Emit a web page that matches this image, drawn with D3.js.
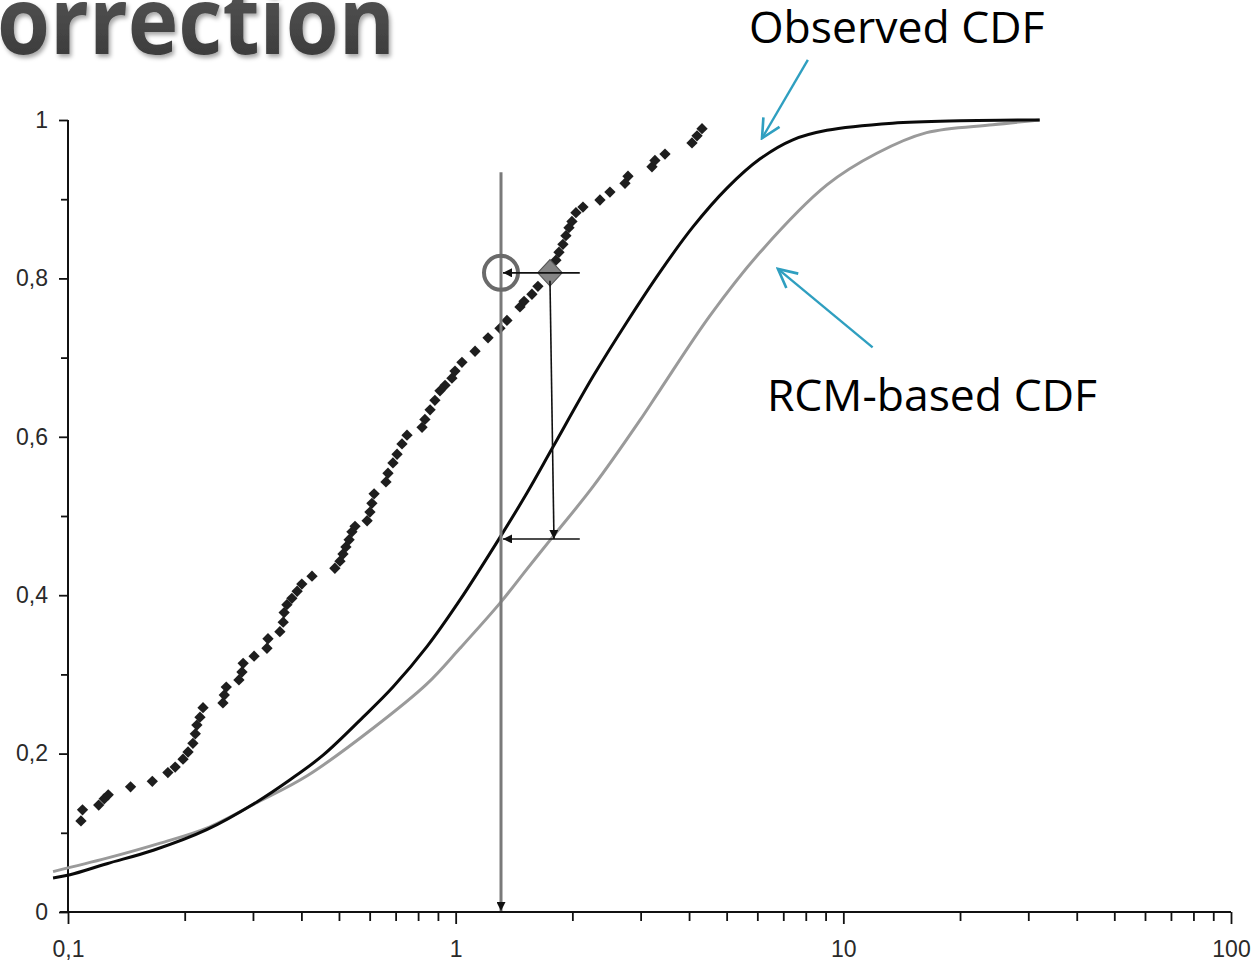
<!DOCTYPE html>
<html>
<head>
<meta charset="utf-8">
<script src="https://cdn.jsdelivr.net/npm/d3@7"></script>
<style>
  html, body { margin: 0; padding: 0; background: #ffffff; }
  svg { display: block; }
</style>
</head>
<body>
<svg id="chart" width="1260" height="965"></svg>
<script>
// ---- Observed station values (empirical points) ----
const obsX = [0.108,0.109,0.120,0.124,0.127,0.145,0.165,0.181,0.189,0.198,0.204,0.210,0.213,0.215,0.219,0.223,
  0.251,0.253,0.256,0.276,0.281,0.283,0.302,0.326,0.328,0.352,0.359,0.361,0.367,0.378,0.390,0.401,0.426,
  0.488,0.503,0.512,0.521,0.531,0.540,0.550,0.591,0.601,0.608,0.616,0.661,0.669,0.689,0.706,0.727,0.749,
  0.819,0.833,0.859,0.884,0.911,0.939,0.978,0.996,1.038,1.122,1.212,1.301,1.356,1.465,1.501,1.573,1.630,
  1.751,1.814,1.847,1.891,1.925,1.960,1.995,2.043,2.130,2.356,2.500,2.734,2.783,3.209,3.266,3.467,4.070,4.194,4.320];
const obsP = [0.115,0.129,0.135,0.143,0.148,0.158,0.165,0.176,0.183,0.193,0.202,0.213,0.225,0.236,0.246,0.258,
  0.264,0.274,0.284,0.293,0.303,0.314,0.323,0.333,0.345,0.354,0.366,0.378,0.388,0.396,0.405,0.414,0.424,
  0.434,0.443,0.452,0.461,0.470,0.480,0.487,0.494,0.505,0.516,0.528,0.543,0.554,0.567,0.578,0.591,0.602,
  0.612,0.622,0.634,0.646,0.658,0.665,0.674,0.683,0.694,0.708,0.725,0.737,0.747,0.764,0.771,0.780,0.790,
  0.807,0.823,0.833,0.843,0.854,0.864,0.872,0.883,0.890,0.899,0.909,0.920,0.929,0.941,0.949,0.957,0.971,0.980,0.989];

// ---- Fitted CDF of observations (black) ----
const cdfObsX = [0.0915,0.1012,0.126,0.166,0.228,0.307,0.374,0.455,0.577,0.689,0.843,1.026,1.301,1.527,1.782,2.260,2.766,3.365,4.093,5.01,6.10,7.41,9.07,13.4,20.0,32.1];
const cdfObsP = [0.043,0.047,0.061,0.078,0.104,0.139,0.167,0.198,0.246,0.284,0.335,0.394,0.473,0.529,0.587,0.676,0.745,0.808,0.865,0.914,0.951,0.975,0.987,0.996,0.999,1.0];

// ---- RCM-based CDF (grey) ----
const cdfRcmX = [0.0915,0.126,0.173,0.228,0.307,0.414,0.612,0.843,1.026,1.301,1.527,1.782,2.260,2.989,3.365,4.53,6.10,9.07,12.2,16.4,24.3,32.1];
const cdfRcmP = [0.051,0.068,0.087,0.106,0.138,0.172,0.232,0.288,0.333,0.390,0.433,0.474,0.537,0.621,0.659,0.753,0.833,0.918,0.958,0.984,0.994,1.0];

// ---- Axis ticks ----
const xTickValues = [0.1,0.2,0.3,0.4,0.5,0.6,0.7,0.8,0.9,1,2,3,4,5,6,7,8,9,10,20,30,40,50,60,70,80,90,100];
const xLabelValues = [0.1, 1, 10, 100];
const xLabels = ["0,1", "1", "10", "100"];
const yTickValues = [0,0.1,0.2,0.3,0.4,0.5,0.6,0.7,0.8,0.9,1];
const yLabelValues = [0, 0.2, 0.4, 0.6, 0.8, 1];
const yLabels = ["0", "0,2", "0,4", "0,6", "0,8", "1"];

// ---- Quantile-mapping illustration ----
const mapRcmValue = 1.793;     // RCM value picked on the grey CDF
const mapProb = 0.471;         // its non-exceedance probability
const mapObsValue = 1.309;     // matching value on the black CDF
const mapPointX = 1.751, mapPointP = 0.807;   // highlighted observation
const mapArrowFromX = 2.09;
const mapLineTopP = 0.934;

// ---- Callouts ----
const calloutObs = { text: "Observed CDF", tx: 5.71, tp: 1.097, fromX: 8.10, fromP: 1.076, toX: 6.17, toP: 0.977 };
const calloutRcm = { text: "RCM-based CDF", tx: 6.35, tp: 0.633, fromX: 11.9, fromP: 0.713, toX: 6.78, toP: 0.812 };

const svg = d3.select("#chart");
const x = d3.scaleLog().domain([0.1, 100]).range([68, 1231]);
const y = d3.scaleLinear().domain([0, 1]).range([912, 120]);

const defs = svg.append("defs");
const grad = defs.append("linearGradient").attr("id", "titleFill").attr("x1", 0).attr("y1", 0).attr("x2", 0).attr("y2", 1);
grad.append("stop").attr("offset", "0%").attr("stop-color", "#606060");
grad.append("stop").attr("offset", "100%").attr("stop-color", "#333333");
const shadow = defs.append("filter").attr("id", "titleShadow").attr("x", "-10%").attr("y", "-20%").attr("width", "130%").attr("height", "160%");
shadow.append("feDropShadow").attr("dx", 2).attr("dy", 3).attr("stdDeviation", 2).attr("flood-color", "#000").attr("flood-opacity", 0.35);

defs.append("marker").attr("id", "headBlack")
  .attr("viewBox", "0 0 10 10").attr("refX", 10).attr("refY", 5)
  .attr("markerUnits", "userSpaceOnUse").attr("markerWidth", 11).attr("markerHeight", 9)
  .attr("orient", "auto")
  .append("path").attr("d", "M0,0 L10,5 L0,10 Z").attr("fill", "#111");

defs.append("marker").attr("id", "headTeal")
  .attr("viewBox", "0 0 20 20").attr("refX", 18).attr("refY", 10)
  .attr("markerUnits", "userSpaceOnUse").attr("markerWidth", 22).attr("markerHeight", 22)
  .attr("orient", "auto")
  .append("path").attr("d", "M1,1.5 L18,10 L1,18.5").attr("fill", "none")
  .attr("stroke", "#2f9fc0").attr("stroke-width", 2.4);

// ---- Slide title (partly off the left/top edge) ----
svg.append("text")
  .attr("x", -3).attr("y", 54)
  .attr("font-family", "'Open Sans', sans-serif").attr("font-weight", 700)
  .attr("font-size", 93)
  .attr("textLength", 398).attr("lengthAdjust", "spacingAndGlyphs")
  .attr("fill", "url(#titleFill)").attr("filter", "url(#titleShadow)")
  .text("orrection");

// ---- Axes ----
const fmtX = d => { const i = xLabelValues.findIndex(v => Math.abs(v - d) < 1e-9); return i >= 0 ? xLabels[i] : ""; };
const fmtY = d => { const i = yLabelValues.findIndex(v => Math.abs(v - d) < 1e-9); return i >= 0 ? yLabels[i] : ""; };

const gx = svg.append("g").attr("transform", `translate(0,${y(0)})`)
  .call(d3.axisBottom(x).tickValues(xTickValues).tickFormat(fmtX).tickSize(9).tickSizeOuter(0).tickPadding(20));
const gy = svg.append("g").attr("transform", `translate(${x(0.1)},0)`)
  .call(d3.axisLeft(y).tickValues(yTickValues).tickFormat(fmtY).tickSize(9).tickSizeOuter(0).tickPadding(11));

[gx, gy].forEach(g => {
  g.select(".domain").remove();
  g.selectAll(".tick line").attr("stroke", "#111").attr("stroke-width", 1.8);
  g.selectAll(".tick text").attr("fill", "#2a2a2a")
    .attr("font-family", "'Liberation Sans', Arial, sans-serif").attr("font-size", 23);
});
gx.selectAll(".tick line").attr("y2", d => xLabelValues.some(v => Math.abs(v - d) < 1e-9) ? 12 : 9);
gy.selectAll(".tick line").attr("x2", d => yLabelValues.some(v => Math.abs(v - d) < 1e-9) ? -9 : -7);

// axis lines
svg.append("line").attr("x1", x(0.1) - 8).attr("x2", x(100)).attr("y1", y(0)).attr("y2", y(0))
  .attr("stroke", "#111").attr("stroke-width", 2);
svg.append("line").attr("x1", x(0.1)).attr("x2", x(0.1)).attr("y1", y(0)).attr("y2", y(1))
  .attr("stroke", "#111").attr("stroke-width", 2);

// ---- CDF curves ----
const line = d3.line().x(d => x(d[0])).y(d => y(d[1])).curve(d3.curveCatmullRom.alpha(0.5));
svg.append("path").datum(cdfRcmX.map((v, i) => [v, cdfRcmP[i]]))
  .attr("d", line).attr("fill", "none").attr("stroke", "#9a9a9a").attr("stroke-width", 3);
svg.append("path").datum(cdfObsX.map((v, i) => [v, cdfObsP[i]]))
  .attr("d", line).attr("fill", "none").attr("stroke", "#0a0a0a").attr("stroke-width", 3);

// ---- Observed points (diamonds) ----
const diamond = d3.symbol().type(d3.symbolSquare).size(64);
svg.append("g").selectAll("path").data(obsX.map((v, i) => [v, obsP[i]])).join("path")
  .attr("d", diamond)
  .attr("transform", d => `translate(${x(d[0])},${y(d[1])}) rotate(45)`)
  .attr("fill", "#1e1e1e");

// ---- Quantile-mapping construction ----
// grey vertical reference line down to the axis
svg.append("line")
  .attr("x1", x(mapObsValue)).attr("x2", x(mapObsValue))
  .attr("y1", y(mapLineTopP)).attr("y2", y(0) - 1)
  .attr("stroke", "#7a7a7a").attr("stroke-width", 3)
  .attr("marker-end", "url(#headBlack)");

// highlighted observation
svg.append("path")
  .attr("d", d3.symbol().type(d3.symbolSquare).size(300))
  .attr("transform", `translate(${x(mapPointX)},${y(mapPointP)}) scale(1,1.08) rotate(45)`)
  .attr("fill", "#858585").attr("stroke", "#555").attr("stroke-width", 1);

// circled target on the vertical line
svg.append("circle")
  .attr("cx", x(mapObsValue)).attr("cy", y(mapPointP)).attr("r", 17)
  .attr("fill", "none").attr("stroke", "#6a6a6a").attr("stroke-width", 4);

// horizontal arrow at the observation probability
svg.append("line")
  .attr("x1", x(mapArrowFromX)).attr("x2", x(mapObsValue) + 2)
  .attr("y1", y(mapPointP)).attr("y2", y(mapPointP))
  .attr("stroke", "#111").attr("stroke-width", 1.6).attr("marker-end", "url(#headBlack)");

// vertical arrow down to the grey CDF
svg.append("line")
  .attr("x1", x(mapPointX)).attr("x2", x(mapRcmValue))
  .attr("y1", y(mapPointP) + 8).attr("y2", y(mapProb))
  .attr("stroke", "#111").attr("stroke-width", 1.6).attr("marker-end", "url(#headBlack)");

// horizontal arrow back to the black CDF
svg.append("line")
  .attr("x1", x(mapArrowFromX)).attr("x2", x(mapObsValue) + 2)
  .attr("y1", y(mapProb)).attr("y2", y(mapProb))
  .attr("stroke", "#111").attr("stroke-width", 1.6).attr("marker-end", "url(#headBlack)");

// ---- Callouts ----
[calloutObs, calloutRcm].forEach(c => {
  svg.append("line")
    .attr("x1", x(c.fromX)).attr("y1", y(c.fromP))
    .attr("x2", x(c.toX)).attr("y2", y(c.toP))
    .attr("stroke", "#2f9fc0").attr("stroke-width", 2.4)
    .attr("marker-end", "url(#headTeal)");
  svg.append("text")
    .attr("x", x(c.tx)).attr("y", y(c.tp))
    .attr("font-family", "'Open Sans', sans-serif").attr("font-size", 44.5)
    .attr("fill", "#000")
    .text(c.text);
});
</script>
</body>
</html>
